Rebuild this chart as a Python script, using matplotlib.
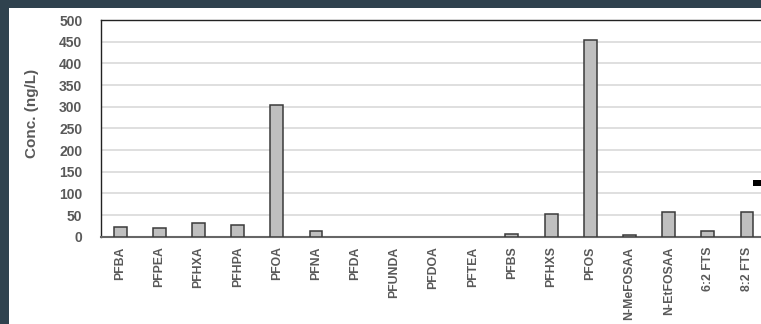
import matplotlib
matplotlib.use("Agg")
import matplotlib.pyplot as plt
from matplotlib.patches import Rectangle
import numpy as np

plt.rcParams['font.family'] = ['Liberation Sans', 'DejaVu Sans']

# PFAS compounds and measured concentrations (ng/L)
compounds = ["PFBA", "PFPEA", "PFHXA", "PFHPA", "PFOA", "PFNA", "PFDA",
             "PFUNDA", "PFDOA", "PFTEA", "PFBS", "PFHXS", "PFOS",
             "N-MeFOSAA", "N-EtFOSAA", "6:2 FTS", "8:2 FTS"]
concentrations = [23, 20, 31, 28, 305, 14, 0, 0, 0, 0, 7, 52, 455,
                  5, 57, 12, 58]
y_ticks = [0, 50, 100, 150, 200, 250, 300, 350, 400, 450, 500]

W, H = 761, 324
fig = plt.figure(figsize=(W / 100, H / 100), dpi=100)
fig.patch.set_facecolor("#2f424e")

# white panel inside the dark frame
fig.add_artist(Rectangle((9 / W, 0), 1, (H - 8) / H, transform=fig.transFigure,
                         facecolor="white", edgecolor="none", zorder=0))

ax = fig.add_axes([100.5 / W, 87.3 / H, 666.1 / W, 216.7 / H])
ax.set_facecolor("white")

x = np.arange(len(compounds))
# non-detects (zero) get no outline so they stay invisible
edges = ["#3a3a3a" if v > 0 else "none" for v in concentrations]
ax.bar(x, concentrations, width=0.33, color="#bfbfbf", edgecolor=edges,
       linewidth=1.1, zorder=3)

ax.set_xlim(-0.5, len(compounds) - 0.5)
ax.set_ylim(0, 500)
ax.set_yticks(y_ticks)
ax.yaxis.grid(True, color="#dcdcdc", linewidth=1.3, zorder=0)
ax.set_axisbelow(True)

ax.set_xticks(x)
ax.set_xticklabels(compounds, rotation=90, fontsize=8.8, fontweight="bold",
                   color="#595959")
ax.set_yticklabels([str(v) for v in y_ticks], fontsize=10, fontweight="bold",
                   color="#595959")
ax.tick_params(axis="both", length=0)
ax.tick_params(axis="y", pad=13)
ax.tick_params(axis="x", pad=7)

ax.set_ylabel("Conc. (ng/L)", fontsize=11, fontweight="bold", color="#595959")
ax.yaxis.set_label_coords(-0.092, 0.569)

for side in ("top", "left"):
    ax.spines[side].set_color("#222222")
    ax.spines[side].set_linewidth(1.0)
ax.spines["bottom"].set_color("#666666")
ax.spines["bottom"].set_linewidth(1.5)
ax.spines["right"].set_visible(False)

# legend key peeking in at the right edge
fig.add_artist(Rectangle((753 / W, (H - 185.5) / H), 10 / W, 5.5 / H,
                         transform=fig.transFigure, facecolor="black",
                         edgecolor="none", zorder=5))

fig.savefig("out.png", dpi=100, facecolor=fig.get_facecolor())
